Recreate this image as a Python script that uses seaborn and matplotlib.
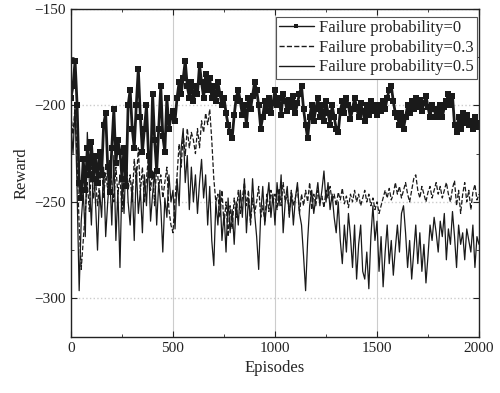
import numpy as np
import pandas as pd
import matplotlib
matplotlib.use("Agg")
import matplotlib.pyplot as plt
from matplotlib.ticker import MultipleLocator
import seaborn as sns

episodes = list(range(0, 2001, 10))

reward_p0 = [
    -196, -190, -177, -200, -240, -248, -228, -244, -222, -236, -219, -238, -226, -240, -224, -236, -210, -204, -232, -245,
    -222, -202, -230, -218, -224, -238, -222, -242, -200, -192, -212, -222, -200, -181, -206, -224, -212, -200, -226, -236,
    -194, -218, -234, -212, -190, -216, -224, -196, -212, -206, -203, -208, -196, -188, -194, -186, -177, -190, -196, -188,
    -198, -190, -194, -179, -188, -196, -184, -192, -186, -196, -190, -198, -188, -194, -200, -196, -204, -210, -214, -217,
    -205, -196, -192, -198, -205, -200, -210, -196, -202, -195, -188, -192, -200, -212, -206, -198, -203, -196, -204, -199,
    -192, -200, -196, -205, -194, -198, -203, -197, -201, -195, -204, -199, -194, -190, -202, -210, -217, -206, -200, -208,
    -202, -196, -206, -200, -208, -198, -204, -210, -200, -206, -212, -214, -203, -198, -204, -196, -200, -207, -202, -196,
    -201, -206, -199, -203, -208, -200, -205, -198, -203, -200, -205, -200, -203, -198, -202, -196, -192, -190, -198, -204,
    -206, -210, -204, -212, -206, -200, -204, -198, -202, -196, -201, -197, -203, -199, -195, -201, -206, -200, -202, -206,
    -203, -200, -206, -201, -198, -194, -200, -195, -210, -214, -206, -212, -204, -209, -205, -210, -208, -212, -206, -211,
    -209,
]

reward_p03 = [
    -205, -215, -200, -230, -262, -285, -270, -255, -240, -255, -232, -248, -238, -252, -240, -230, -248, -235, -244, -228,
    -240, -250, -232, -246, -236, -255, -238, -226, -244, -236, -250, -228, -240, -222, -245, -232, -250, -238, -226, -244,
    -234, -252, -230, -242, -236, -248, -240, -232, -254, -262, -266, -248, -236, -220, -232, -215, -226, -212, -222, -214,
    -218, -225, -212, -222, -208, -214, -204, -210, -202, -218, -238, -250, -246, -258, -244, -262, -250, -268, -252, -264,
    -248, -258, -244, -256, -248, -240, -252, -244, -262, -248, -256, -250, -242, -258, -252, -260, -246, -255, -244, -250,
    -246, -254, -243, -252, -240, -250, -246, -256, -244, -252, -248, -242, -256, -246, -252, -244, -250, -240, -254, -246,
    -252, -244, -250, -247, -253, -244, -248, -242, -250, -246, -252, -245, -249, -243, -251, -247, -253, -246, -250, -244,
    -250, -246, -252, -248, -244, -250, -246, -252, -248, -254, -250, -256, -252, -248, -244, -248, -243, -249, -246, -240,
    -246, -242, -248, -244, -240, -246, -250, -244, -238, -236, -244, -248, -242, -246, -250, -245, -242, -248, -244, -240,
    -246, -242, -248, -244, -240, -246, -250, -243, -239, -252, -244, -256, -246, -240, -250, -244, -254, -245, -241, -249,
    -246,
]

reward_p05 = [
    -210, -225, -200, -245, -296, -260, -245, -268, -214, -240, -262, -230, -250, -275, -244, -258, -232, -268, -250, -236,
    -262, -226, -270, -244, -284, -238, -256, -226, -250, -262, -240, -270, -232, -256, -244, -266, -236, -252, -228, -260,
    -246, -234, -262, -240, -252, -276, -248, -258, -236, -250, -244, -264, -238, -252, -222, -212, -240, -226, -254, -232,
    -250, -236, -256, -240, -228, -248, -236, -262, -242, -270, -283, -250, -262, -244, -270, -256, -276, -248, -266, -254,
    -272, -250, -262, -244, -258, -238, -266, -248, -260, -238, -256, -268, -285, -256, -242, -262, -250, -240, -258, -246,
    -262, -240, -252, -236, -266, -250, -242, -258, -245, -262, -248, -240, -256, -262, -278, -296, -270, -252, -244, -256,
    -248, -240, -252, -244, -234, -250, -240, -254, -246, -258, -266, -250, -270, -282, -262, -276, -256, -268, -284, -262,
    -290, -272, -262, -286, -290, -276, -295, -268, -252, -270, -260, -286, -268, -294, -276, -262, -282, -270, -288, -274,
    -262, -276, -256, -252, -266, -284, -270, -290, -276, -262, -282, -266, -286, -272, -292, -278, -262, -270, -258, -266,
    -276, -260, -268, -256, -280, -264, -272, -255, -268, -284, -262, -272, -266, -280, -264, -270, -276, -262, -284, -268,
    -272,
]

labels = ["Failure probability=0", "Failure probability=0.3", "Failure probability=0.5"]

sns.set_style("ticks")
plt.rcParams['font.family'] = ['Liberation Serif', 'DejaVu Serif']

fig = plt.figure(figsize=(5.0, 3.93), dpi=100)
ax = fig.add_axes([0.142, 0.1425, 0.816, 0.835])

ax.grid(axis='x', which='major', color='#cccccc', linestyle='-', linewidth=0.8)
ax.grid(axis='y', which='major', color='#cccccc', linestyle=':', linewidth=1.0)

sns.lineplot(x=episodes, y=reward_p0, ax=ax, color='#1a1a1a', linewidth=2.0,
             marker='s', markersize=4.2, markeredgewidth=0, label=labels[0])
sns.lineplot(x=episodes, y=reward_p03, ax=ax, color='#1a1a1a', linewidth=0.9,
             linestyle='--', label=labels[1])
sns.lineplot(x=episodes, y=reward_p05, ax=ax, color='#1a1a1a', linewidth=0.9,
             label=labels[2])

ax.set_xlim(0, 2000)
ax.set_ylim(-320, -150)
ax.xaxis.set_major_locator(MultipleLocator(500))
ax.xaxis.set_minor_locator(MultipleLocator(250))
ax.yaxis.set_major_locator(MultipleLocator(50))
ax.yaxis.set_minor_locator(MultipleLocator(25))
ax.tick_params(which='both', direction='in', top=True, right=True, labelsize=11, colors='#222222')
ax.tick_params(which='major', length=4)
ax.tick_params(which='minor', length=2.5)
for s in ax.spines.values():
    s.set_color('#222222')
    s.set_linewidth(1.0)

ax.set_xlabel('Episodes', fontsize=12)
ax.set_ylabel('Reward', fontsize=12)

leg = ax.legend(loc='upper right', bbox_to_anchor=(0.995, 0.976), fontsize=12,
                frameon=True, fancybox=False, edgecolor='#555555', framealpha=1,
                handlelength=2.1, borderaxespad=0, borderpad=0.2,
                labelspacing=0.22, handletextpad=0.3)
leg.get_frame().set_linewidth(0.8)
for h in leg.get_lines():
    h.set_linewidth(1.0)
    h.set_markersize(2.5)

fig.savefig('out.png', dpi=100)
